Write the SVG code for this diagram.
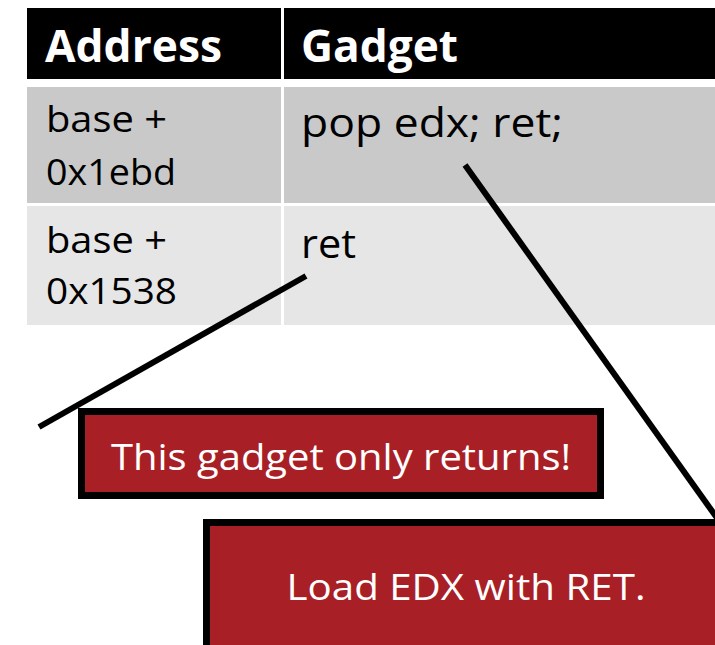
<svg xmlns="http://www.w3.org/2000/svg" width="715" height="645" viewBox="0 0 715 645">
<style>
.hdr{fill:#000}
.r1{fill:#c9c9c9}
.r2{fill:#e6e6e6}
.ht{font-family:"Open Sans","Liberation Sans",sans-serif;font-weight:bold;font-size:44px;fill:#fff}
.ct{font-family:"Open Sans","Liberation Sans",sans-serif;font-size:36px;fill:#000}
.gt{font-family:"Open Sans","Liberation Sans",sans-serif;font-size:41px;fill:#000}
.box{fill:#a81f25;stroke:#000;stroke-width:7}
.bt{font-family:"Open Sans","Liberation Sans",sans-serif;font-size:37px;fill:#fff}
.conn{stroke:#000;stroke-width:6;fill:none}
</style>
<rect width="715" height="645" fill="#fff"/>
<g id="table">
  <rect class="hdr" x="27" y="8" width="254" height="71"/>
  <rect class="hdr" x="284" y="8" width="431" height="71"/>
  <text class="ht" x="45" y="62" textLength="177" lengthAdjust="spacingAndGlyphs">Address</text>
  <text class="ht" x="301" y="62" textLength="157" lengthAdjust="spacingAndGlyphs">Gadget</text>
  <rect class="r1" x="27" y="87" width="254" height="116"/>
  <rect class="r1" x="284" y="87" width="431" height="116"/>
  <text class="ct" x="46" y="132" textLength="121" lengthAdjust="spacingAndGlyphs">base +</text>
  <text class="ct" x="46" y="185" textLength="130" lengthAdjust="spacingAndGlyphs">0x1ebd</text>
  <text class="gt" x="301" y="137" textLength="262" lengthAdjust="spacingAndGlyphs">pop edx; ret;</text>
  <rect class="r2" x="27" y="206" width="254" height="119"/>
  <rect class="r2" x="284" y="206" width="431" height="119"/>
  <text class="ct" x="46" y="253" textLength="121" lengthAdjust="spacingAndGlyphs">base +</text>
  <text class="ct" x="46" y="304" textLength="131" lengthAdjust="spacingAndGlyphs">0x1538</text>
  <text class="gt" x="301" y="258" textLength="55" lengthAdjust="spacingAndGlyphs">ret</text>
</g>
<g id="note1">
  <rect class="box" x="81.5" y="411.5" width="519" height="84"/>
  <text class="bt" x="341" y="470" text-anchor="middle" textLength="460" lengthAdjust="spacingAndGlyphs">This gadget only returns!</text>
</g>
<g id="note2">
  <rect class="box" x="206.5" y="522.5" width="519" height="130"/>
  <text class="bt" x="466" y="600" text-anchor="middle" textLength="359" lengthAdjust="spacingAndGlyphs">Load EDX with RET.</text>
</g>
<g id="connectors">
  <line class="conn" x1="306" y1="276" x2="39" y2="427"/>
  <line class="conn" x1="465" y1="165" x2="722" y2="525"/>
</g>
</svg>
